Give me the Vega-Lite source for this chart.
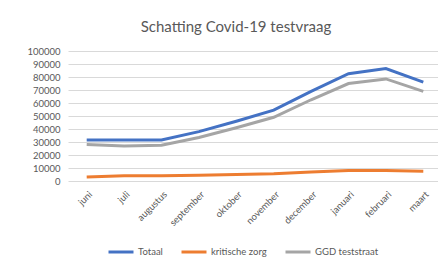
{
  "$schema": "https://vega.github.io/schema/vega-lite/v6.json",
  "autosize": "none",
  "width": 374,
  "height": 130,
  "padding": {"left": 68, "top": 51, "right": 0, "bottom": 83},
  "background": "white",
  "title": {"text": "Schatting Covid-19 testvraag", "font": "Lato", "fontSize": 15, "fontWeight": "normal", "color": "#595959", "anchor": "middle", "dx": -19, "offset": 11},
  "data": {"values": [
    {"maand": "juni", "reeks": "Totaal", "waarde": 31500},
    {"maand": "juli", "reeks": "Totaal", "waarde": 31500},
    {"maand": "augustus", "reeks": "Totaal", "waarde": 31500},
    {"maand": "september", "reeks": "Totaal", "waarde": 38000},
    {"maand": "oktober", "reeks": "Totaal", "waarde": 46000},
    {"maand": "november", "reeks": "Totaal", "waarde": 54500},
    {"maand": "december", "reeks": "Totaal", "waarde": 69000},
    {"maand": "januari", "reeks": "Totaal", "waarde": 82500},
    {"maand": "februari", "reeks": "Totaal", "waarde": 86500},
    {"maand": "maart", "reeks": "Totaal", "waarde": 76000},
    {"maand": "juni", "reeks": "kritische zorg", "waarde": 3000},
    {"maand": "juli", "reeks": "kritische zorg", "waarde": 4000},
    {"maand": "augustus", "reeks": "kritische zorg", "waarde": 4000},
    {"maand": "september", "reeks": "kritische zorg", "waarde": 4500},
    {"maand": "oktober", "reeks": "kritische zorg", "waarde": 5000},
    {"maand": "november", "reeks": "kritische zorg", "waarde": 5500},
    {"maand": "december", "reeks": "kritische zorg", "waarde": 7000},
    {"maand": "januari", "reeks": "kritische zorg", "waarde": 8000},
    {"maand": "februari", "reeks": "kritische zorg", "waarde": 8000},
    {"maand": "maart", "reeks": "kritische zorg", "waarde": 7500},
    {"maand": "juni", "reeks": "GGD teststraat", "waarde": 28000},
    {"maand": "juli", "reeks": "GGD teststraat", "waarde": 27000},
    {"maand": "augustus", "reeks": "GGD teststraat", "waarde": 27500},
    {"maand": "september", "reeks": "GGD teststraat", "waarde": 33500},
    {"maand": "oktober", "reeks": "GGD teststraat", "waarde": 41000},
    {"maand": "november", "reeks": "GGD teststraat", "waarde": 49000},
    {"maand": "december", "reeks": "GGD teststraat", "waarde": 62500},
    {"maand": "januari", "reeks": "GGD teststraat", "waarde": 75000},
    {"maand": "februari", "reeks": "GGD teststraat", "waarde": 78500},
    {"maand": "maart", "reeks": "GGD teststraat", "waarde": 69000}
  ]},
  "mark": {"type": "line", "strokeWidth": 3},
  "encoding": {
    "x": {"field": "maand", "type": "nominal", "sort": null,
      "scale": {"type": "point", "padding": 0.5},
      "axis": {"title": null, "labelAngle": -45, "labelFont": "Lato", "labelFontSize": 9.5, "labelColor": "#595959", "domain": false, "ticks": false, "grid": false, "labelPadding": 8}},
    "y": {"field": "waarde", "type": "quantitative",
      "scale": {"domain": [0, 100000], "nice": false},
      "axis": {"title": null, "values": [0,10000,20000,30000,40000,50000,60000,70000,80000,90000,100000], "format": "d", "labelFont": "Lato", "labelFontSize": 9.5, "labelColor": "#595959", "domain": false, "ticks": false, "gridColor": "#D9D9D9", "gridWidth": 1, "labelPadding": 8}},
    "color": {"field": "reeks", "type": "nominal",
      "scale": {"domain": ["Totaal", "kritische zorg", "GGD teststraat"], "range": ["#4472C4", "#ED7D31", "#A5A5A5"]},
      "legend": {"title": null, "orient": "none", "direction": "horizontal", "legendX": 39, "legendY": 187, "symbolType": "stroke", "symbolSize": 625, "symbolStrokeWidth": 3, "labelFont": "Lato", "labelFontSize": 9.5, "labelColor": "#595959", "columnPadding": 12, "symbolOffset": 0, "labelOffset": 3}}
  },
  "config": {"view": {"stroke": null}}
}
